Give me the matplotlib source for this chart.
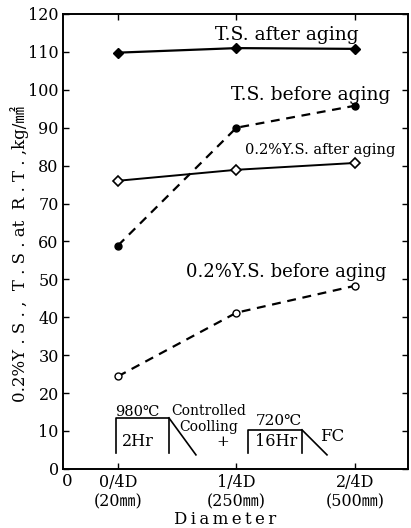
import matplotlib
matplotlib.use("Agg")
import matplotlib.pyplot as plt

positions = [0, 1, 2]
tick_labels = ["0/4D\n(20㎜)", "1/4D\n(250㎜)", "2/4D\n(500㎜)"]
ts_after = [109.8, 111.0, 110.8]
ts_before = [58.9, 90.0, 95.8]
ys_after = [76.0, 78.9, 80.7]
ys_before = [24.4, 41.2, 48.3]
yticks = list(range(0, 121, 10))

FAM = ["DejaVu Serif", "Noto Sans CJK JP", "DejaVu Sans"]
plt.rcParams['font.family'] = FAM

fig = plt.figure(figsize=(4.11, 5.28), dpi=100)
ax = fig.add_axes([0.153, 0.112, 0.9927 - 0.153, 0.9735 - 0.112])

ax.plot(positions, ts_after, '-', color='black', lw=1.6, marker='D', ms=5.5, mfc='black')
ax.plot(positions, ts_before, '--', color='black', lw=1.6, dashes=(4, 3), marker='o', ms=5, mfc='black')
ax.plot(positions, ys_after, '-', color='black', lw=1.4, marker='D', ms=5.5, mfc='white', mew=1.2)
ax.plot(positions, ys_before, '--', color='black', lw=1.6, dashes=(4, 3), marker='o', ms=5, mfc='white', mew=1.0)

ax.set_xlim(-0.464, 2.447)
ax.set_ylim(0, 120)
ax.set_yticks(yticks)
ax.set_yticklabels([str(v) for v in yticks], fontsize=11.5)
ax.set_xticks(positions)
ax.set_xticklabels(tick_labels, fontsize=11.5, linespacing=1.15)
ax.tick_params(direction='in', top=True, right=True, length=4, width=1.0, pad=3)
ax.tick_params(axis='x', pad=4)
for s in ax.spines.values():
    s.set_linewidth(1.4)

def px(x):
    return (x - 118) / 118.5
def py(y):
    return (469 - y) / 3.79

ax.text(px(67), py(482), "0", ha='center', va='center', fontsize=12, clip_on=False)
ax.set_xlabel("D\u2009i\u2009a\u2009m\u2009e\u2009t\u2009e\u2009r", fontsize=12)
ax.xaxis.set_label_coords(px(225), py(511), transform=ax.transData)
ax.set_ylabel("0.2%Y . S . ,  T . S . at  R . T . ,kg/㎟", fontsize=12)
ax.yaxis.set_label_coords(px(29), py(254), transform=ax.transData)

lab_kw = dict(ha='center', va='center')
ax.text(px(287), py(35), "T.S. after aging", fontsize=13.5, **lab_kw)
ax.text(px(311), py(95), "T.S. before aging", fontsize=13.5, **lab_kw)
ax.text(px(320), py(150), "0.2%Y.S. after aging", fontsize=10.5, **lab_kw)
ax.text(px(286), py(272), "0.2%Y.S. before aging", fontsize=13, **lab_kw)

# heat treatment schematic
lk = dict(color='black', lw=1.2)
ax.plot([px(116), px(116), px(169), px(169)], [py(453), py(418), py(418), py(453)], **lk)
ax.plot([px(169), px(196)], [py(418), py(455)], **lk)
ax.plot([px(248), px(248), px(302), px(302)], [py(453), py(430), py(430), py(453)], **lk)
ax.plot([px(302), px(327)], [py(430), py(455)], **lk)

ht = dict(ha='center', va='center')
ax.text(px(137), py(412), "980℃", fontsize=10.5, **ht)
ax.text(px(138), py(442), "2Hr", fontsize=11.5, **ht)
ax.text(px(209), py(411), "Controlled", fontsize=10, **ht)
ax.text(px(209), py(427), "Coolling", fontsize=10, **ht)
ax.text(px(223), py(442), "+", fontsize=11, **ht)
ax.text(px(279), py(421), "720℃", fontsize=11, **ht)
ax.text(px(276), py(442), "16Hr", fontsize=11.5, **ht)
ax.text(px(332), py(437), "FC", fontsize=12, **ht)

fig.savefig("out.png", dpi=100)
